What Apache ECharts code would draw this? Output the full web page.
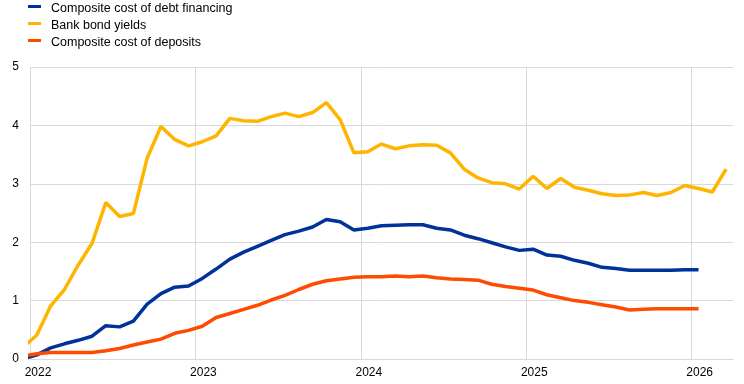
<!DOCTYPE html>
<html><head><meta charset="utf-8">
<script src="https://cdn.jsdelivr.net/npm/echarts@6/dist/echarts.min.js"></script>
<style>html,body{margin:0;padding:0;background:#fff}#c{width:744px;height:384px}</style>
</head><body><div id="c"></div>
<script>
// Monthly observations, first entry = Dec 2021, then Jan 2022 onwards
const yearLabels = ['2022', '2023', '2024', '2025', '2026'];
const seriesNames = ['Composite cost of debt financing', 'Bank bond yields', 'Composite cost of deposits'];
const seriesColors = ['#003299', '#FFB400', '#FF4B00'];

const debtCost = [0.00, 0.07, 0.19, 0.26, 0.32, 0.39, 0.57, 0.55, 0.65, 0.94, 1.12, 1.23, 1.25,
  1.38, 1.54, 1.71, 1.83, 1.93, 2.03, 2.13, 2.19, 2.26, 2.39, 2.35, 2.21,
  2.24, 2.28, 2.29, 2.30, 2.30, 2.24, 2.21, 2.12, 2.06, 1.99, 1.92, 1.86,
  1.88, 1.78, 1.76, 1.69, 1.64, 1.57, 1.55, 1.52, 1.52, 1.52, 1.52, 1.53, 1.53];

const bondYields = [0.20, 0.41, 0.91, 1.19, 1.61, 1.98, 2.68, 2.44, 2.49, 3.44, 3.98, 3.76, 3.65,
  3.72, 3.82, 4.12, 4.08, 4.07, 4.15, 4.21, 4.15, 4.22, 4.39, 4.10, 3.53,
  3.55, 3.68, 3.60, 3.65, 3.67, 3.66, 3.53, 3.25, 3.10, 3.02, 3.00, 2.91,
  3.13, 2.92, 3.09, 2.94, 2.89, 2.83, 2.80, 2.81, 2.85, 2.80, 2.85, 2.97,
  2.92, 2.86, 3.25];

const depositCost = [0.05, 0.09, 0.11, 0.11, 0.11, 0.11, 0.14, 0.18, 0.24, 0.29, 0.34, 0.44, 0.49,
  0.56, 0.71, 0.78, 0.85, 0.92, 1.01, 1.09, 1.19, 1.28, 1.34, 1.37, 1.40,
  1.41, 1.41, 1.42, 1.41, 1.42, 1.39, 1.37, 1.36, 1.35, 1.28, 1.24, 1.21,
  1.18, 1.10, 1.05, 1.00, 0.97, 0.93, 0.89, 0.84, 0.85, 0.86, 0.86, 0.86, 0.86];

const yTicks = [0, 1, 2, 3, 4, 5];

// x = months since start of Jan 2022, observation placed mid-month
function toPoints(values) { return values.map((v, i) => [i - 0.5, v]); }

const FONT = 'Liberation Sans, Arial, sans-serif';
// legend key: short bar sitting slightly above the text middle, with extra room before the text
const LEGEND_ICON = 'path://M0,0H13V3H0Z M17.99,7H18V7.01H17.99Z';
const chart = echarts.init(document.getElementById('c'), null, { renderer: 'canvas' });
const dataSets = [debtCost, bondYields, depositCost];

chart.setOption({
  animation: false,
  backgroundColor: '#fff',
  textStyle: { fontFamily: FONT },
  legend: {
    orient: 'vertical', left: 28, top: 2, padding: 0,
    itemWidth: 18, itemHeight: 7, itemGap: 4, icon: LEGEND_ICON,
    textStyle: { fontSize: 12.5, color: '#000', fontFamily: FONT },
    data: seriesNames
  },
  grid: { left: 30, right: 11, top: 67, bottom: 25 },
  xAxis: {
    type: 'value', min: 0, max: 51, interval: 12,
    axisLine: { show: true, lineStyle: { color: '#d9d9d9', width: 1 } },
    axisTick: { show: false },
    splitLine: { show: true, showMaxLine: false, lineStyle: { color: '#d9d9d9', width: 1 } },
    axisLabel: {
      showMaxLabel: false, margin: 8, fontSize: 12, color: '#000', fontFamily: FONT,
      padding: [0, 0, 0, 16],
      formatter: v => (v % 12 === 0 && yearLabels[v / 12]) ? yearLabels[v / 12] : ''
    }
  },
  yAxis: {
    type: 'value', min: yTicks[0], max: yTicks[yTicks.length - 1], interval: 1,
    axisLine: { show: false }, axisTick: { show: false },
    splitLine: { show: true, lineStyle: { color: '#d9d9d9', width: 1 } },
    axisLabel: { margin: 11, fontSize: 12, color: '#000', fontFamily: FONT }
  },
  series: seriesNames.map((name, k) => ({
    name, type: 'line', data: toPoints(dataSets[k]),
    showSymbol: false, symbol: 'none', clip: true,
    itemStyle: { color: seriesColors[k] },
    lineStyle: { color: seriesColors[k], width: 3.5 }
  }))
});
</script></body></html>
